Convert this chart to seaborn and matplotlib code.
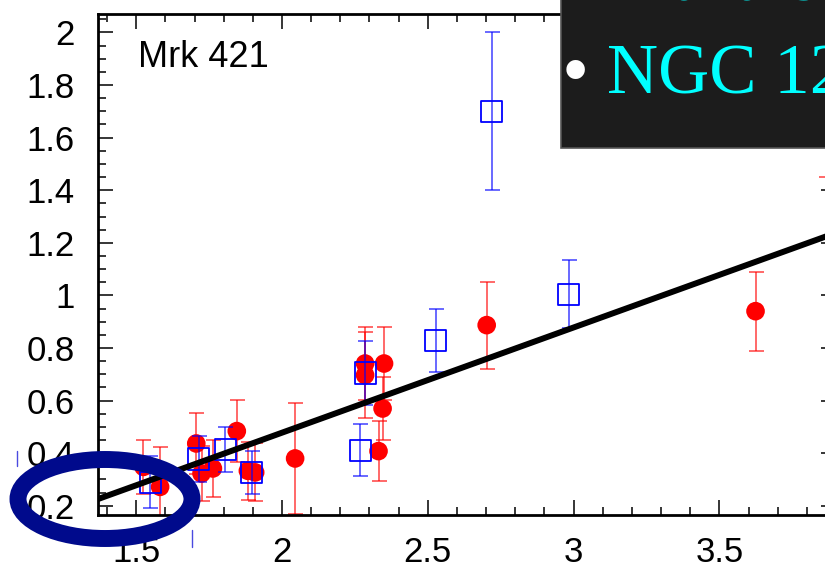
import numpy as np
import pandas as pd
import matplotlib
matplotlib.use("Agg")
import matplotlib.pyplot as plt
import seaborn as sns
from matplotlib.patches import Rectangle, Ellipse
from matplotlib.lines import Line2D
from matplotlib.ticker import MultipleLocator, FuncFormatter

# ---------------- data ----------------
red_x = [3.624, 2.702, 2.350, 2.345, 2.331, 2.285, 2.285, 2.045, 1.845,
         1.706, 1.724, 1.763, 1.883, 1.908, 1.525, 1.582, 3.865]
red_y = [0.940, 0.887, 0.741, 0.570, 0.408, 0.741, 0.697, 0.380, 0.484,
         0.437, 0.323, 0.342, 0.333, 0.327, 0.348, 0.272, 1.750]
red_err = [0.150, 0.165, 0.140, 0.120, 0.113, 0.140, 0.165, 0.210, 0.117,
           0.116, 0.104, 0.108, 0.110, 0.110, 0.104, 0.150, 0.300]

blue_x = [2.720, 2.983, 2.528, 2.286, 2.268, 1.715, 1.805, 1.897, 1.549]
blue_y = [1.700, 1.005, 0.830, 0.705, 0.412, 0.378, 0.415, 0.326, 0.290]
blue_err = [0.300, 0.130, 0.120, 0.120, 0.098, 0.088, 0.085, 0.082, 0.100]

fit_slope = 0.40
fit_intercept = -0.322

x_ticks = [1.5, 2.0, 2.5, 3.0, 3.5]
y_ticks = [0.2, 0.4, 0.6, 0.8, 1.0, 1.2, 1.4, 1.6, 1.8, 2.0]
source_label = "Mrk 421"
slide_lines = ["Blazars", "NGC 1275"]

# ---------------- style ----------------
sns.set_theme(style="ticks")
plt.rcParams['font.family'] = ['Liberation Sans', 'DejaVu Sans']

W, H = 825, 569
fig = plt.figure(figsize=(W / 100, H / 100), dpi=100)
fig.patch.set_facecolor('white')


def fx(px):
    return px / W


def fy(py):
    return 1 - py / H


L, R, T, B = 98.3, 836.0, 14.0, 515.0
ax = fig.add_axes([fx(L), fy(B), fx(R) - fx(L), fy(T) - fy(B)])
ax.set_facecolor('white')
ax.set_xlim(1.37, 3.9)
ax.set_ylim(0.165, 2.07)

red_df = pd.DataFrame({"x": red_x, "y": red_y, "err": red_err})
blue_df = pd.DataFrame({"x": blue_x, "y": blue_y, "err": blue_err})

# red series
ax.errorbar(red_df["x"], red_df["y"], yerr=red_df["err"], fmt='none',
            ecolor='red', alpha=0.75, elinewidth=1.1, capsize=5.4,
            capthick=1.1, zorder=2)
sns.scatterplot(data=red_df, x="x", y="y", ax=ax, color='red', marker='o',
                s=180, edgecolor='none', linewidth=0, zorder=3, legend=False)

# blue series
ax.errorbar(blue_df["x"], blue_df["y"], yerr=blue_df["err"], fmt='none',
            ecolor='blue', alpha=0.75, elinewidth=1.1, capsize=5.4,
            capthick=1.1, zorder=4)
sns.scatterplot(data=blue_df, x="x", y="y", ax=ax, marker='s', s=230,
                facecolor='none', edgecolor='blue', linewidth=1.3,
                zorder=5, legend=False)

# fit line
xl = np.array(ax.get_xlim())
fit_df = pd.DataFrame({"x": xl, "y": fit_slope * xl + fit_intercept})
sns.lineplot(data=fit_df, x="x", y="y", ax=ax, color='black', linewidth=4.3,
             zorder=6, legend=False)

ax.set_xlabel("")
ax.set_ylabel("")
ax.set_xticks(x_ticks)
ax.set_yticks(y_ticks)
fmt = FuncFormatter(lambda v, p: f"{v:g}")
ax.xaxis.set_major_formatter(fmt)
ax.yaxis.set_major_formatter(fmt)
ax.xaxis.set_minor_locator(MultipleLocator(0.1))
ax.yaxis.set_minor_locator(MultipleLocator(0.05))
ax.tick_params(which='both', direction='in', top=True, right=True,
               color='black', width=1.1)
ax.tick_params(which='major', length=11, labelsize=25, pad=17,
               labelcolor='black')
ax.tick_params(axis='x', which='major', pad=15)
ax.tick_params(which='minor', length=5.5)
for s in ax.spines.values():
    s.set_linewidth(2.0)
    s.set_color('black')

fig.text(fx(138), fy(67), source_label, fontsize=26, color='black',
         va='baseline', ha='left')

# ---------------- overlay (slide elements) ----------------
box = Rectangle((fx(560.7), fy(148.3)), 1.0, 1.0, transform=fig.transFigure,
                facecolor='#1c1c1c', edgecolor='#555555', linewidth=1.2,
                zorder=10)
fig.add_artist(box)
line_base = [-1, 93]
for txt, yb in zip(slide_lines, line_base):
    fig.text(fx(607), fy(yb), txt, color='#00ffff', fontsize=51,
             family=['Liberation Serif', 'DejaVu Serif'], va='baseline',
             ha='left', zorder=11)
    fig.text(fx(575), fy(yb - 16), "\u2022", color='white', fontsize=56,
             family=['Liberation Serif', 'DejaVu Serif'], va='center',
             ha='center', zorder=11)

ell = Ellipse((fx(105), fy(499)), 174 / W, 79 / H, transform=fig.transFigure,
              facecolor='none', edgecolor='#000a8c', linewidth=12.2, zorder=12)
fig.add_artist(ell)
fig.add_artist(Line2D([fx(17.3), fx(17.3)], [fy(451), fy(466)],
                      transform=fig.transFigure, color='#4a4ae0', lw=1,
                      zorder=12))
fig.add_artist(Line2D([fx(192.3), fx(192.3)], [fy(530), fy(546.7)],
                      transform=fig.transFigure, color='#4a4ae0', lw=1,
                      zorder=12))

fig.savefig('out.png', dpi=100)
